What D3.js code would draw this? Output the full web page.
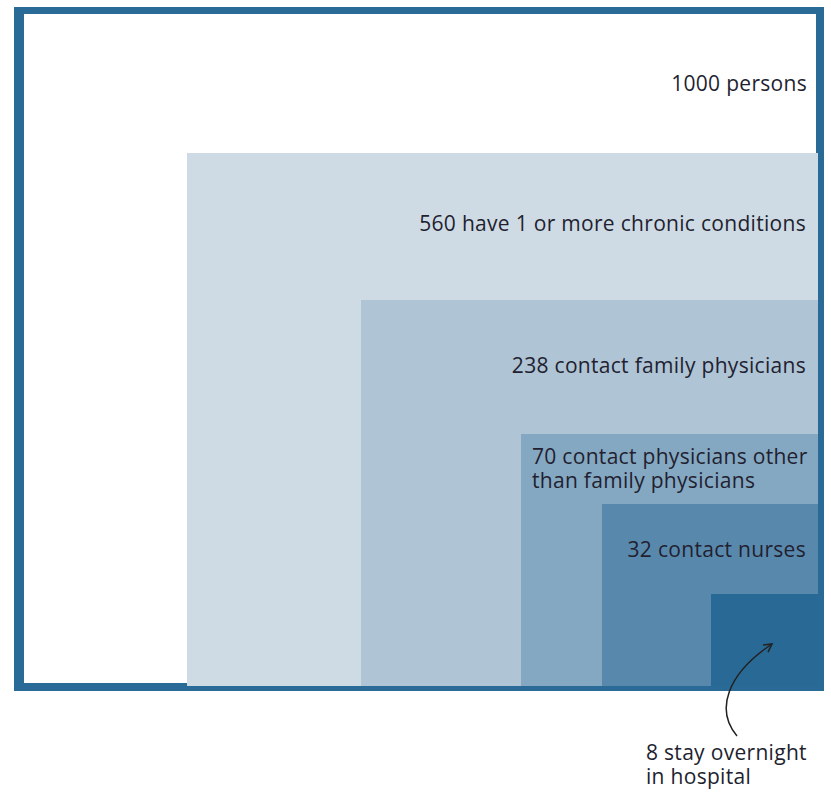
<!DOCTYPE html>
<html><head><meta charset="utf-8">
<script src="https://cdn.jsdelivr.net/npm/d3@7/dist/d3.min.js"></script>
<style>body{margin:0;background:#fff}svg{display:block}text{font-family:"Open Sans",sans-serif;font-size:21px;letter-spacing:0.3px;fill:#221f30}</style>
</head><body>
<script>
// Data
const totalLabel = ["1000 persons"];
const values = [560, 238, 70, 32, 8];
const labels = [
  ["560 have 1 or more chronic conditions"],
  ["238 contact family physicians"],
  ["70 contact physicians other", "than family physicians"],
  ["32 contact nurses"],
  ["8 stay overnight", "in hospital"]
];
const colors = ["#cfdbe4", "#afc4d5", "#84a8c2", "#5889ad", "#296995"];

const W = 831, H = 805;
const svg = d3.select("body").append("svg").attr("width", W).attr("height", H);

// frame
const frame = {x0: 14, y0: 7, x1: 824, y1: 691};
const anchor = {x: 818, y: 686};
const borderCol = "#2a6a96";
svg.append("rect").attr("x", frame.x0).attr("y", frame.y0)
  .attr("width", frame.x1 - frame.x0).attr("height", frame.y1 - frame.y0).attr("fill", borderCol);
svg.append("rect").attr("x", 24).attr("y", 14)
  .attr("width", 816 - 24).attr("height", 683 - 14).attr("fill", "#fff");

// schematic (non-proportional) size scales, piecewise on log values
const wScale = d3.scaleLog().domain([8, 32, 70, 238, 560]).range([107, 216, 297, 457, 631]);
const hScale = d3.scaleLog().domain([8, 32, 70, 238, 560]).range([92, 182, 252, 386, 533]);

const boxes = values.map((v, i) => ({
  v, i, x: anchor.x - wScale(v), y: anchor.y - hScale(v), w: wScale(v), h: hScale(v)
}));

svg.selectAll("rect.box").data(boxes).join("rect").attr("class", "box")
  .attr("x", d => d.x).attr("y", d => d.y).attr("width", d => d.w).attr("height", d => d.h)
  .attr("fill", (d, i) => colors[i]);

const lh = 23.5;
function bandLabel(lines, yTop, yBot, x, anchorTxt, dy) {
  const cy = (yTop + yBot) / 2;
  const t = svg.append("text").attr("text-anchor", anchorTxt);
  lines.forEach((l, k) => {
    t.append("tspan").attr("x", x)
      .attr("y", cy + (k - (lines.length - 1) / 2) * lh + dy).text(l);
  });
}
bandLabel(totalLabel, 14, boxes[0].y, anchor.x - 11, "end", 7);
boxes.slice(0, 4).forEach((b, i) => {
  const next = boxes[i + 1];
  if (labels[i].length > 1) bandLabel(labels[i], b.y, next.y, b.x + 11, "start", 7);
  else bandLabel(labels[i], b.y, next.y, anchor.x - 12, "end", i === 0 ? 4 : i === 3 ? 8 : 6);
});

// annotation for last box
const last = boxes[4];
const tip = [last.x + 61, last.y + 50];
const start = [last.x + 26, anchor.y + 50];
const p = d3.path();
p.moveTo(start[0], start[1]);
p.bezierCurveTo(start[0] - 22, start[1] - 26, start[0] - 10, tip[1] + 30, tip[0], tip[1]);
svg.append("path").attr("d", p.toString()).attr("fill", "none").attr("stroke", "#222").attr("stroke-width", 1.5);
// arrow head
const ang = Math.atan2(-14, 20);
const ah = 9;
const hd = d3.path();
hd.moveTo(tip[0] + ah * Math.cos(ang + Math.PI - 0.5), tip[1] + ah * Math.sin(ang + Math.PI - 0.5));
hd.lineTo(tip[0], tip[1]);
hd.lineTo(tip[0] + ah * Math.cos(ang + Math.PI + 0.5), tip[1] + ah * Math.sin(ang + Math.PI + 0.5));
svg.append("path").attr("d", hd.toString()).attr("fill", "none").attr("stroke", "#222").attr("stroke-width", 1.5);

const t8 = svg.append("text").attr("text-anchor", "start");
labels[4].forEach((l, k) => t8.append("tspan").attr("x", last.x - 65).attr("y", anchor.y + 74 + k * lh).text(l));
</script>
</body></html>
